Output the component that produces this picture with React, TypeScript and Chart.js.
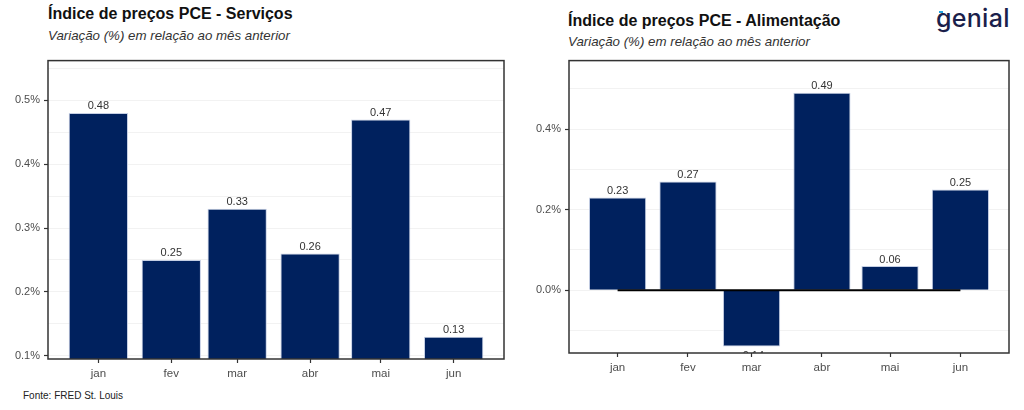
import React, { useEffect, useRef } from 'react';
import Chart from 'chart.js/auto';

// eixo x é de datas no original: posição = dia do ano do 1º de cada mês
const months = ['jan', 'fev', 'mar', 'abr', 'mai', 'jun'];
const monthDays = [0, 31, 59, 90, 120, 151];

const servicos = [0.48, 0.25, 0.33, 0.26, 0.47, 0.13];
const alimentacao = [0.23, 0.27, -0.14, 0.49, 0.06, 0.25];
const zeroLine = [0, 0, 0, 0, 0, 0];

const servicosGrid = [0.1, 0.15, 0.2, 0.25, 0.3, 0.35, 0.4, 0.45, 0.5, 0.55];
const servicosTicks = [0.1, 0.2, 0.3, 0.4, 0.5];
const alimentacaoGrid = [-0.1, 0, 0.1, 0.2, 0.3, 0.4, 0.5];
const alimentacaoTicks = [0, 0.2, 0.4];

const FONT = '"Liberation Sans", Arial, Helvetica, sans-serif';
const NAVY = '#00215e';

Chart.defaults.font.family = FONT;

const frame = {
  id: 'frame',
  afterDraw(chart: any) {
    const { ctx, chartArea: a } = chart;
    ctx.save();
    ctx.strokeStyle = '#333';
    ctx.lineWidth = 1.5;
    ctx.strokeRect(a.left, a.top, a.right - a.left, a.bottom - a.top);
    ctx.restore();
  },
};

const valueLabels = {
  id: 'valueLabels',
  afterDatasetsDraw(chart: any) {
    const { ctx, chartArea: a } = chart;
    ctx.save();
    ctx.beginPath();
    ctx.rect(a.left, a.top, a.right - a.left, a.bottom - a.top);
    ctx.clip();
    ctx.font = `11px ${FONT}`;
    ctx.fillStyle = '#333';
    ctx.textAlign = 'center';
    chart.data.datasets.forEach((ds: any, i: number) => {
      if (ds.type === 'line') return;
      chart.getDatasetMeta(i).data.forEach((el: any, j: number) => {
        const v = ds.data[j].y;
        if (v >= 0) {
          ctx.textBaseline = 'alphabetic';
          ctx.fillText(v.toFixed(2), el.x, el.y - 3.5);
        } else {
          ctx.textBaseline = 'top';
          ctx.fillText(v.toFixed(2), el.x, el.y + 4);
        }
      });
    });
    ctx.restore();
  },
};

interface PanelProps {
  values: number[];
  grid: number[];
  ticks: number[];
  yMin: number;
  yMax: number;
  withZero: boolean;
  width: number;
  height: number;
  yWidth: number;
  xHeight: number;
  padTop: number;
  padRight: number;
}

const Panel: React.FC<PanelProps> = (p) => {
  const chartRef = useRef<HTMLCanvasElement>(null);

  useEffect(() => {
    if (!chartRef.current) return;
    const isTick = (v: number) => p.ticks.some((t) => Math.abs(t - v) < 1e-9);
    const datasets: any[] = [
      {
        type: 'bar',
        data: monthDays.map((d, i) => ({ x: d, y: p.values[i] })),
        backgroundColor: NAVY,
        borderColor: '#c5cfe4',
        borderWidth: 1,
        categoryPercentage: 1,
        barPercentage: 0.9,
        order: 1,
      },
    ];
    if (p.withZero) {
      datasets.push({
        type: 'line',
        data: monthDays.map((d, i) => ({ x: d, y: zeroLine[i] })),
        borderColor: '#000',
        borderWidth: 2,
        pointRadius: 0,
        order: 0,
      });
    }
    const chart = new Chart(chartRef.current, {
      type: 'bar',
      data: { datasets },
      options: {
        animation: false,
        responsive: false,
        layout: { padding: { top: p.padTop, right: p.padRight, left: 0, bottom: 0 } },
        plugins: { legend: { display: false }, tooltip: { enabled: false } },
        scales: {
          x: {
            type: 'linear',
            min: -21.4,
            max: 172.4,
            offset: false,
            afterBuildTicks: (s: any) => {
              s.ticks = monthDays.map((v) => ({ value: v }));
            },
            afterFit: (s: any) => {
              s.height = p.xHeight;
            },
            ticks: {
              autoSkip: false,
              maxRotation: 0,
              padding: 4,
              color: '#4d4d4d',
              font: { size: 11.5 },
              callback: (_v: any, i: number) => months[i],
            },
            grid: {
              drawOnChartArea: false,
              offset: false,
              tickLength: 4,
              tickWidth: 1.2,
              tickColor: '#333',
              color: '#333',
            },
            border: { display: false },
          },
          y: {
            min: p.yMin,
            max: p.yMax,
            afterBuildTicks: (s: any) => {
              s.ticks = p.grid.map((v) => ({ value: v }));
            },
            afterFit: (s: any) => {
              s.width = p.yWidth;
            },
            ticks: {
              autoSkip: false,
              padding: 4,
              color: '#4d4d4d',
              font: { size: 11 },
              callback: (v: any) => (isTick(Number(v)) ? `${Number(v).toFixed(1)}%` : ''),
            },
            grid: {
              color: '#f2f2f2',
              lineWidth: 1,
              tickLength: 4,
              tickWidth: 1.2,
              tickColor: (ctx: any) => (isTick(ctx.tick.value) ? '#333' : 'rgba(0,0,0,0)'),
            },
            border: { display: false },
          },
        },
      } as any,
      plugins: [valueLabels, frame],
    });
    return () => chart.destroy();
  }, []);

  return <canvas ref={chartRef} width={p.width} height={p.height} style={{ width: p.width, height: p.height }} />;
};

const text = (left: number, top: number, size: number, extra: React.CSSProperties = {}): React.CSSProperties => ({
  position: 'absolute',
  left,
  top,
  fontSize: size,
  lineHeight: 1,
  whiteSpace: 'nowrap',
  fontFamily: FONT,
  ...extra,
});

export default function App() {
  return (
    <div style={{ position: 'fixed', left: 0, top: 0, width: 1024, height: 410, background: '#fff', overflow: 'hidden' }}>
      <div style={text(48, 6, 16, { fontWeight: 'bold', color: '#111' })}>Índice de preços PCE - Serviços</div>
      <div style={text(48, 29.3, 13.3, { fontStyle: 'italic', color: '#333' })}>Variação (%) em relação ao mês anterior</div>
      <div style={text(568, 13, 16, { fontWeight: 'bold', color: '#111' })}>Índice de preços PCE - Alimentação</div>
      <div style={text(568, 35.3, 13.3, { fontStyle: 'italic', color: '#333' })}>Variação (%) em relação ao mês anterior</div>
      <div style={text(23, 390.5, 10, { color: '#222' })}>Fonte: FRED St. Louis</div>
      <div style={text(936, 6, 25, { fontFamily: 'Inter, sans-serif', fontWeight: 500, color: '#1b1f4b', letterSpacing: 0.3 })}>genial</div>
      <div style={{ position: 'absolute', left: 939, top: 11, width: 4, height: 2, background: '#1fa3e0' }} />

      <div style={{ position: 'absolute', left: 0, top: 50 }}>
        <Panel
          values={servicos}
          grid={servicosGrid}
          ticks={servicosTicks}
          yMin={0.095}
          yMax={0.562}
          withZero={false}
          width={515}
          height={335}
          yWidth={48}
          xHeight={26}
          padTop={10}
          padRight={11}
        />
      </div>
      <div style={{ position: 'absolute', left: 520, top: 50 }}>
        <Panel
          values={alimentacao}
          grid={alimentacaoGrid}
          ticks={alimentacaoTicks}
          yMin={-0.156}
          yMax={0.57}
          withZero={true}
          width={500}
          height={335}
          yWidth={49}
          xHeight={32}
          padTop={8}
          padRight={11}
        />
      </div>
    </div>
  );
}
